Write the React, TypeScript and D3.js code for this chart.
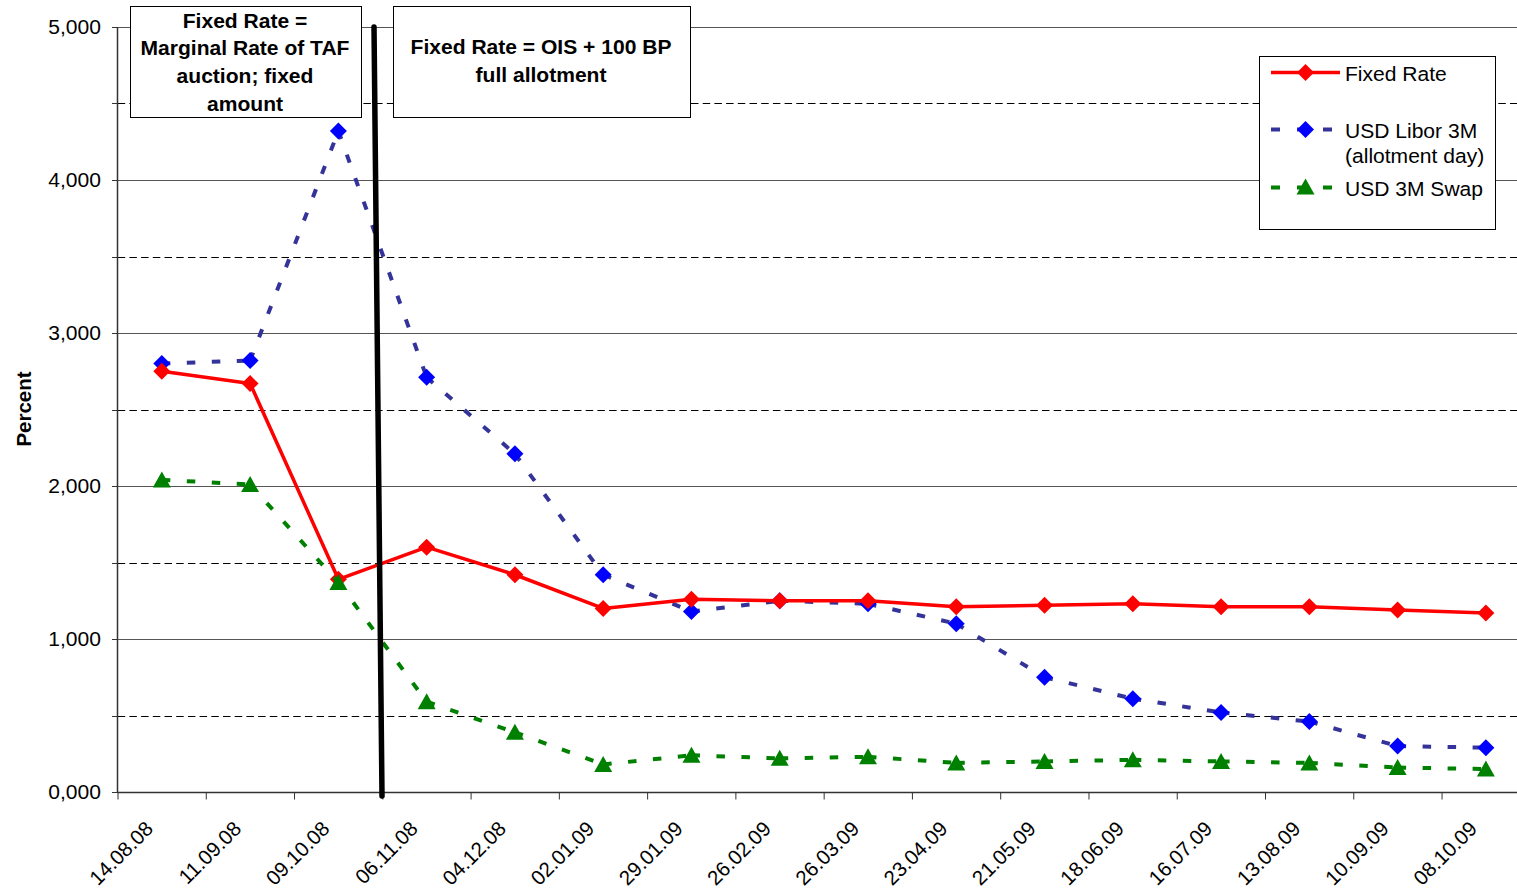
import React from "react";
import * as d3 from "d3";

const categories = [
  "14.08.08", "11.09.08", "09.10.08", "06.11.08", "04.12.08", "02.01.09",
  "29.01.09", "26.02.09", "26.03.09", "23.04.09", "21.05.09", "18.06.09",
  "16.07.09", "13.08.09", "10.09.09", "08.10.09",
];
const fixedRate = [2.75, 2.67, 1.39, 1.60, 1.42, 1.20, 1.26, 1.25, 1.25, 1.21, 1.22, 1.23, 1.21, 1.21, 1.19, 1.17];
const liborUSD3M = [2.80, 2.82, 4.32, 2.71, 2.21, 1.42, 1.18, 1.25, 1.23, 1.10, 0.75, 0.61, 0.52, 0.46, 0.30, 0.29];
const swapUSD3M = [2.04, 2.01, 1.37, 0.59, 0.39, 0.18, 0.24, 0.22, 0.23, 0.19, 0.20, 0.21, 0.20, 0.19, 0.16, 0.15];
const majorTicks = [0, 1, 2, 3, 4, 5];
const minorTicks = [0.5, 1.5, 2.5, 3.5, 4.5];
const legendLabels = ["Fixed Rate", "USD Libor 3M", "(allotment day)", "USD 3M Swap"];
const box1Lines = ["Fixed Rate =", "Marginal Rate of TAF", "auction; fixed", "amount"];
const box2Lines = ["Fixed Rate = OIS + 100 BP", "full allotment"];
const regimeChangeCategory = "06.11.08";

const W = 1517;
const H = 889;
const LEFT = 117.7;
const BAND = 88.27;
const TOP = 27;
const BOTTOM = 792;
const FONT = "'Liberation Sans', Arial, sans-serif";
const SX = 1.08;

const x = d3.scaleBand<string>().domain(categories).range([LEFT, LEFT + BAND * categories.length]).paddingInner(0).paddingOuter(0);
const y = d3.scaleLinear().domain([0, 5]).range([BOTTOM, TOP]);
const cx = (c: string) => (x(c) as number) + x.bandwidth() / 2;
const fmt = (v: number) => d3.format(".3f")(v).replace(".", ",");

const diamond = "M0,-8.5L8.5,0L0,8.5L-8.5,0Z";
const triangle = "M0,-8.5L9,7.5L-9,7.5Z";

function Txt({ x: tx, y: ty, children, anchor = "start", size = 19.5, weight = "normal", sx = SX }: any) {
  return (
    <text transform={`translate(${tx},${ty}) scale(${sx},1)`} textAnchor={anchor} fontSize={size} fontWeight={weight} fontFamily={FONT} fill="#000">
      {children}
    </text>
  );
}

function DashedSeries({ values, color, marker, markerColor }: any) {
  const pts = values.map((v: number, i: number) => [cx(categories[i]), y(v)] as [number, number]);
  return (
    <g>
      {pts.slice(1).map((p: [number, number], i: number) => (
        <line key={i} x1={pts[i][0]} y1={pts[i][1]} x2={p[0]} y2={p[1]} stroke={color} strokeWidth={4} strokeDasharray="8.5,16.5" />
      ))}
      {pts.map((p: [number, number], i: number) => (
        <path key={"m" + i} d={marker} transform={`translate(${p[0]},${p[1]})`} fill={markerColor} />
      ))}
    </g>
  );
}

export default function App() {
  const line = d3.line<number>().x((_, i) => cx(categories[i])).y((d) => y(d));
  const xr = cx(regimeChangeCategory) - BAND / 2;
  return (
    <svg width={W} height={H} style={{ position: "absolute", left: 0, top: 0, background: "#fff" }}>
      <rect x={0} y={0} width={W} height={H} fill="#fff" />
      {/* gridlines */}
      {minorTicks.map((t) => (
        <line key={"mg" + t} x1={LEFT} x2={W} y1={Math.round(y(t)) + 0.5} y2={Math.round(y(t)) + 0.5} stroke="#000" strokeWidth={1} strokeDasharray="7.5,4.2" />
      ))}
      {majorTicks.filter((t) => t > 0).map((t) => (
        <line key={"g" + t} x1={LEFT} x2={W} y1={Math.round(y(t)) + 0.5} y2={Math.round(y(t)) + 0.5} stroke="#555" strokeWidth={1} />
      ))}
      {/* axes */}
      <line x1={117.5} x2={117.5} y1={TOP} y2={BOTTOM} stroke="#333" strokeWidth={1.5} />
      <line x1={LEFT} x2={W} y1={BOTTOM + 0.5} y2={BOTTOM + 0.5} stroke="#333" strokeWidth={1.5} />
      {[...majorTicks, ...minorTicks].map((t) => (
        <line key={"yt" + t} x1={112} x2={118} y1={Math.round(y(t)) + 0.5} y2={Math.round(y(t)) + 0.5} stroke="#333" strokeWidth={1} />
      ))}
      {majorTicks.map((t) => (
        <Txt key={"yl" + t} x={101} y={y(t) + 7} anchor="end">{fmt(t)}</Txt>
      ))}
      {categories.map((c, i) => (
        <line key={"xt" + i} x1={(x(c) as number) + 0.3} x2={(x(c) as number) + 0.3} y1={BOTTOM} y2={BOTTOM + 7.5} stroke="#333" strokeWidth={1} />
      ))}
      {categories.map((c) => (
        <text key={"xl" + c} transform={`translate(${cx(c) - 7.5},${830}) rotate(-45)`} textAnchor="end" fontSize={20.5} fontFamily={FONT}>
          {c}
        </text>
      ))}
      <text transform={`translate(${31},${409}) rotate(-90)`} textAnchor="middle" fontSize={20.5} fontWeight="bold" fontFamily={FONT}>
        Percent
      </text>

      {/* series */}
      <DashedSeries values={liborUSD3M} color="#333399" marker={diamond} markerColor="#0000ff" />
      <path d={line(fixedRate) as string} fill="none" stroke="#ff0000" strokeWidth={3.5} strokeLinejoin="round" />
      {fixedRate.map((v, i) => (
        <path key={"fr" + i} d={diamond} transform={`translate(${cx(categories[i])},${y(v)})`} fill="#ff0000" />
      ))}
      <DashedSeries values={swapUSD3M} color="#008000" marker={triangle} markerColor="#008000" />

      {/* regime change line */}
      <line x1={xr - 8.5} y1={y(5)} x2={xr - 0.5} y2={y(0) + 4} stroke="#000" strokeWidth={5.5} strokeLinecap="round" />

      {/* annotation boxes */}
      <rect x={130.5} y={6.5} width={231} height={111} fill="#fff" stroke="#000" strokeWidth={1} />
      {box1Lines.map((l, i) => (
        <Txt key={"b1" + i} x={245} y={27.5 + i * 27.8} anchor="middle" weight="bold">{l}</Txt>
      ))}
      <rect x={393.5} y={6.5} width={297} height={111} fill="#fff" stroke="#000" strokeWidth={1} />
      {box2Lines.map((l, i) => (
        <Txt key={"b2" + i} x={541} y={54 + i * 28} anchor="middle" weight="bold">{l}</Txt>
      ))}

      {/* legend */}
      <rect x={1259.5} y={56.5} width={236} height={173} fill="#fff" stroke="#000" strokeWidth={1} />
      <line x1={1271} x2={1340} y1={72.5} y2={72.5} stroke="#ff0000" strokeWidth={3.5} />
      <path d={diamond} transform="translate(1305.5,72.5)" fill="#ff0000" />
      <Txt x={1345} y={80.5}>{legendLabels[0]}</Txt>
      <line x1={1271} x2={1340} y1={129.5} y2={129.5} stroke="#333399" strokeWidth={4} strokeDasharray="9,17" />
      <path d={diamond} transform="translate(1305.5,129.5)" fill="#0000ff" />
      <Txt x={1345} y={137.5}>{legendLabels[1]}</Txt>
      <Txt x={1345} y={163}>{legendLabels[2]}</Txt>
      <line x1={1271} x2={1340} y1={187.5} y2={187.5} stroke="#008000" strokeWidth={4} strokeDasharray="9,17" />
      <path d={triangle} transform="translate(1305.5,187)" fill="#008000" />
      <Txt x={1345} y={196}>{legendLabels[3]}</Txt>
    </svg>
  );
}
